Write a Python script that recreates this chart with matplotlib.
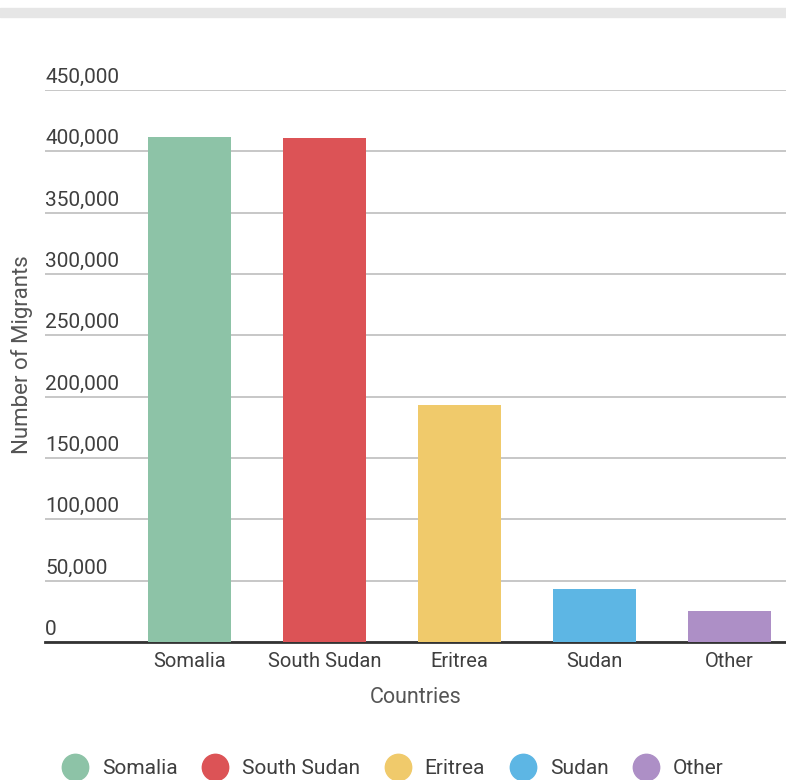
import matplotlib.pyplot as plt
from matplotlib.patches import Rectangle
from matplotlib.lines import Line2D
import matplotlib.transforms as mtransforms

plt.rcParams['font.family'] = ['Roboto', 'DejaVu Sans']

# data
countries = ['Somalia', 'South Sudan', 'Eritrea', 'Sudan', 'Other']
migrants = [412000, 411000, 193000, 43500, 25000]
colors = ['#8dc3a7', '#dc5356', '#f0ca6b', '#5db6e4', '#ad8fc6']
yticks = [0, 50000, 100000, 150000, 200000, 250000, 300000, 350000, 400000, 450000]

fig = plt.figure(figsize=(7.86, 7.80), dpi=100)
ax = fig.add_axes([45 / 786, 1 - 642 / 780, 1 - 45 / 786, (642 - 90) / 780])

# grey strip at the top
fig.patches.append(Rectangle((0, 1 - 17 / 780), 1, 9 / 780, transform=fig.transFigure,
                             color='#e6e6e6', zorder=0))

x = list(range(len(countries)))
ax.bar(x, migrants, width=0.615, color=colors, zorder=3)

ax.set_xlim(-1.07, 4.42)
ax.set_ylim(0, 450000)
ax.set_yticks(yticks)
ax.yaxis.grid(True, color='#bdbdbd', linewidth=1.2)
ax.set_axisbelow(True)
ax.tick_params(axis='y', length=0, labelleft=False)
ax.tick_params(axis='x', length=0, pad=7, labelsize=14.5, labelcolor='#3f3f3f')
ax.set_xticks(x)
ax.set_xticklabels(countries)

for s in ['top', 'right', 'left']:
    ax.spines[s].set_visible(False)
ax.spines['bottom'].set_color('#333333')
ax.spines['bottom'].set_linewidth(2)

trans = mtransforms.blended_transform_factory(ax.transAxes, ax.transData)
off = mtransforms.offset_copy(trans, fig=fig, x=0, y=3, units='dots')
for v in yticks:
    ax.text(0, v, f'{v:,}', transform=off, ha='left', va='bottom',
            fontsize=15, color='#3f3f3f')

ax.set_xlabel('Countries', fontsize=15.5, color='#555555', labelpad=12)
fig.text(22 / 786, 1 - 355 / 780, 'Number of Migrants', rotation=90, ha='center',
         va='center', fontsize=16, color='#555555')

handles = [Line2D([], [], marker='o', linestyle='', markersize=19, color=c) for c in colors]
fig.legend(handles, countries, loc='center', bbox_to_anchor=(0.5, 1 - 769 / 780), ncol=5,
           frameon=False, fontsize=15, labelcolor='#3f3f3f', handletextpad=0.7,
           columnspacing=1.2, handlelength=1.2)

fig.savefig('out.png', dpi=100)
